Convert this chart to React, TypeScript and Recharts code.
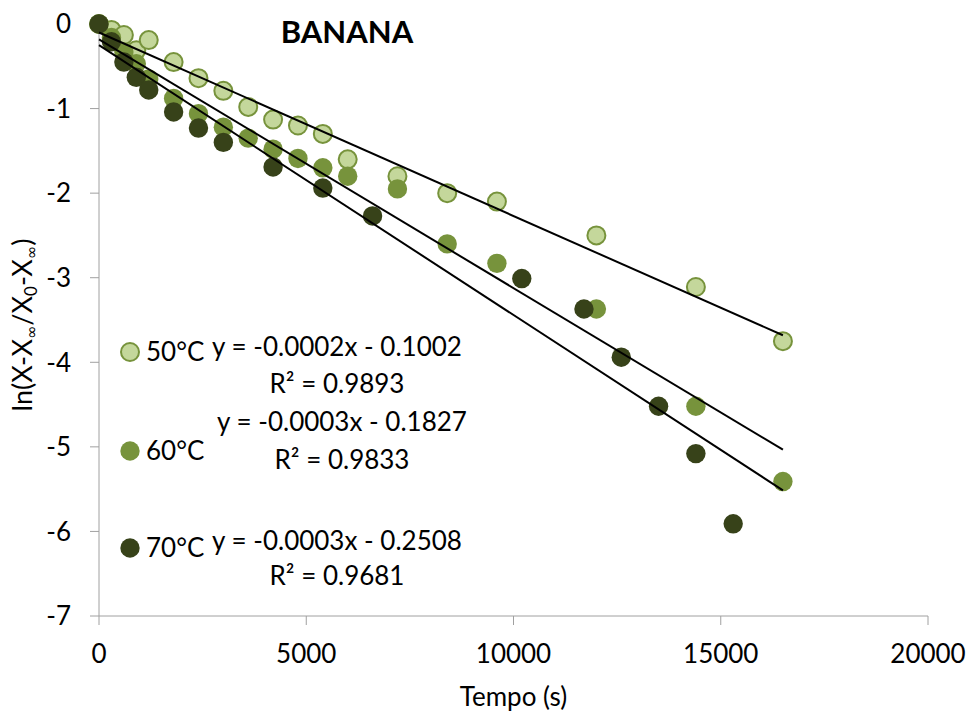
import React from 'react';
import { ScatterChart, Scatter, XAxis, YAxis } from 'recharts';

const times50 = [0, 300, 600, 900, 1200, 1800, 2400, 3000, 3600, 4200, 4800, 5400, 6000, 7200, 8400, 9600, 12000, 14400, 16500];
const ln50 = [0, -0.07, -0.13, -0.31, -0.19, -0.45, -0.64, -0.79, -0.98, -1.13, -1.2, -1.3, -1.6, -1.8, -2.0, -2.1, -2.5, -3.11, -3.75];

const times60 = [0, 300, 600, 900, 1200, 1800, 2400, 3000, 3600, 4200, 4800, 5400, 6000, 7200, 8400, 9600, 12000, 14400, 16500];
const ln60 = [0, -0.16, -0.33, -0.47, -0.65, -0.88, -1.06, -1.22, -1.35, -1.48, -1.59, -1.7, -1.8, -1.95, -2.6, -2.83, -3.37, -4.52, -5.41];

const times70 = [0, 300, 600, 900, 1200, 1800, 2400, 3000, 4200, 5400, 6600, 10200, 11700, 12600, 13500, 14400, 15300];
const ln70 = [0, -0.21, -0.45, -0.63, -0.78, -1.04, -1.23, -1.4, -1.69, -1.94, -2.27, -3.01, -3.37, -3.94, -4.52, -5.08, -5.91];

// trendlines as drawn (the printed slopes are rounded)
const trendSlopes = [-0.000217, -0.000294, -0.000319];
const trendIntercepts = [-0.1002, -0.1827, -0.2508];
const trendRange = [0, 16500];

const seriesNames = ['50°C', '60°C', '70°C'];
const equations = ['y = -0.0002x - 0.1002', 'y = -0.0003x - 0.1827', 'y = -0.0003x - 0.2508'];
const rSquared = ['R² = 0.9893', 'R² = 0.9833', 'R² = 0.9681'];

const xTicks = [0, 5000, 10000, 15000, 20000];
const yTicks = [0, -1, -2, -3, -4, -5, -6, -7];

const FONT = 'Lato, "Open Sans", sans-serif';
const SUB_FONT = '"DejaVu Sans", sans-serif';
const AXIS = '#a0a0a0';

const styles = [
  { fill: '#c4d79b', stroke: '#77933c', r: 9, sw: 2 },
  { fill: '#77933c', stroke: 'none', r: 9.7, sw: 0 },
  { fill: '#374219', stroke: 'none', r: 9.7, sw: 0 },
];

const toPoints = (xs: number[], ys: number[]) => xs.map((x, i) => ({ x, y: ys[i] }));

const series = [toPoints(times50, ln50), toPoints(times60, ln60), toPoints(times70, ln70)];
const trends = trendSlopes.map((m, i) => trendRange.map((x) => ({ x, y: m * x + trendIntercepts[i] })));

const dot = (i: number) => (props: any) => (
  <circle cx={props.cx} cy={props.cy} r={styles[i].r} fill={styles[i].fill} stroke={styles[i].stroke} strokeWidth={styles[i].sw} />
);

const YLabel = () => (
  <text transform="translate(32,325) rotate(-90)" textAnchor="middle" fontFamily={FONT} fontSize={27} fill="#000">
    ln(X-X<tspan fontFamily={SUB_FONT} fontSize={16} dy={5}>∞</tspan>
    <tspan dy={-5}>/X</tspan>
    <tspan fontSize={17} dy={5}>0</tspan>
    <tspan dy={-5}>-X</tspan>
    <tspan fontFamily={SUB_FONT} fontSize={16} dy={5}>∞</tspan>
    <tspan dy={-5}>)</tspan>
  </text>
);

const XLabel = () => (
  <text x={513.5} y={706} textAnchor="middle" fontFamily={FONT} fontSize={26} fill="#000">
    Tempo (s)
  </text>
);

// legend / equation block positions
const legendY = [352, 451, 548];
const eqBaseline = [356, 431, 550];
const eqCenter = [337, 342, 337];
const rBaseline = [393, 469, 585];

const Overlay = () => (
  <svg width={971} height={715} style={{ position: 'absolute', left: 0, top: 0, pointerEvents: 'none' }}>
    <text x={347} y={43} textAnchor="middle" fontFamily={FONT} fontWeight="bold" fontSize={31} fill="#000">
      BANANA
    </text>
    {seriesNames.map((name, i) => (
      <g key={name} fontFamily={FONT} fontSize={26} fill="#000">
        <circle cx={130} cy={legendY[i]} r={styles[i].r} fill={styles[i].fill} stroke={styles[i].stroke} strokeWidth={styles[i].sw} />
        <text x={146} y={legendY[i] + 9}>{name}</text>
        <text x={eqCenter[i]} y={eqBaseline[i]} textAnchor="middle">{equations[i]}</text>
        <text x={eqCenter[i]} y={rBaseline[i]} textAnchor="middle">{rSquared[i]}</text>
      </g>
    ))}
  </svg>
);

export default function App() {
  return (
    <div style={{ position: 'absolute', left: 0, top: 0, width: 971, height: 715, background: '#fff' }}>
      <ScatterChart width={971} height={715} margin={{ top: 24, right: 43, bottom: 0, left: 0 }}>
        <XAxis
          dataKey="x"
          type="number"
          domain={[0, 20000]}
          ticks={xTicks}
          height={99}
          tickSize={9}
          tickMargin={20}
          stroke={AXIS}
          tick={{ fontSize: 26, fill: '#000', fontFamily: FONT }}
          label={<XLabel />}
        />
        <YAxis
          dataKey="y"
          type="number"
          domain={[-7, 0]}
          ticks={yTicks}
          width={99}
          tickSize={9}
          tickMargin={19}
          stroke={AXIS}
          tick={{ fontSize: 26, fill: '#000', fontFamily: FONT }}
          label={<YLabel />}
        />
        {series.map((data, i) => (
          <Scatter key={`s${i}`} data={data} shape={dot(i)} isAnimationActive={false} />
        ))}
        {trends.map((data, i) => (
          <Scatter
            key={`t${i}`}
            data={data}
            line={{ stroke: '#000', strokeWidth: 2 }}
            shape={() => <g />}
            isAnimationActive={false}
          />
        ))}
      </ScatterChart>
      <Overlay />
    </div>
  );
}
